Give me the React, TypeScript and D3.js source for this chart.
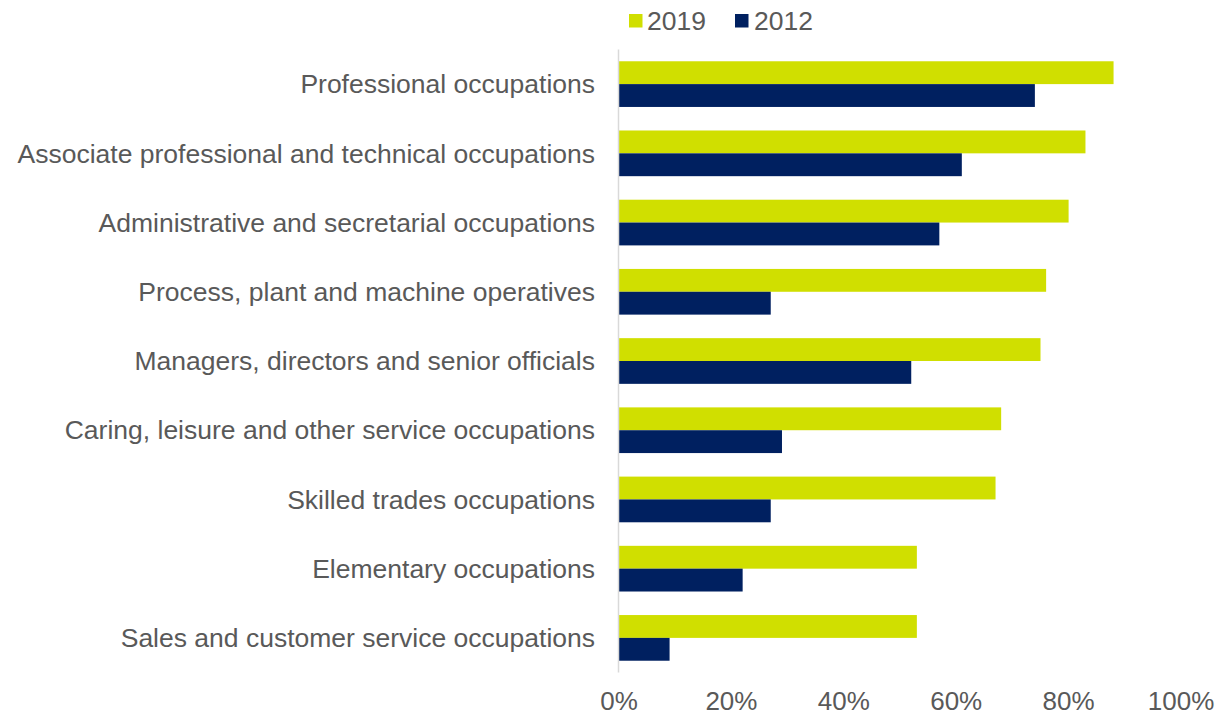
import { useMemo } from "react"
import * as d3 from "d3"

const categories = [
  "Professional occupations",
  "Associate professional and technical occupations",
  "Administrative and secretarial occupations",
  "Process, plant and machine operatives",
  "Managers, directors and senior officials",
  "Caring, leisure and other service occupations",
  "Skilled trades occupations",
  "Elementary occupations",
  "Sales and customer service occupations",
]
const values2019 = [88, 83, 80, 76, 75, 68, 67, 53, 53]
const values2012 = [74, 61, 57, 27, 52, 29, 27, 22, 9]
const seriesNames = ["2019", "2012"]
const xTicks = [0, 20, 40, 60, 80, 100]

const colors: Record<string, string> = { "2019": "#d0df00", "2012": "#002060" }
const textColor = "#595959"
const font = "Arial, 'Liberation Sans', sans-serif"

const width = 1218
const height = 715

export default function App() {
  const x = useMemo(() => d3.scaleLinear().domain([0, 100]).range([619, 1181]), [])
  const y = useMemo(
    () => d3.scaleBand<string>().domain(categories).range([49.5, 672.5]).paddingInner(0.34).paddingOuter(0.17),
    [],
  )
  const sub = useMemo(() => d3.scaleBand<string>().domain(seriesNames).range([0, y.bandwidth()]), [y])

  const series: Record<string, number[]> = { "2019": values2019, "2012": values2012 }

  return (
    <svg
      width={width}
      height={height}
      style={{ position: "absolute", left: 0, top: 0, fontFamily: font }}
    >
      {/* legend */}
      <g>
        <rect x={629} y={14} width={13.5} height={13.5} fill={colors["2019"]} />
        <text x={647} y={30} fontSize={26.5} fill={textColor}>2019</text>
        <rect x={735} y={14} width={13.5} height={13.5} fill={colors["2012"]} />
        <text x={754} y={30} fontSize={26.5} fill={textColor}>2012</text>
      </g>

      {/* bars */}
      {seriesNames.map((s) =>
        categories.map((c, i) => (
          <rect
            key={s + c}
            x={x(0)}
            y={(y(c) ?? 0) + (sub(s) ?? 0)}
            width={x(series[s][i]) - x(0)}
            height={sub.bandwidth()}
            fill={colors[s]}
          />
        )),
      )}

      {/* y axis line */}
      <line x1={x(0) - 0.5} x2={x(0) - 0.5} y1={y.range()[0]} y2={y.range()[1]} stroke="#d9d9d9" strokeWidth={1.5} />

      {/* category labels */}
      {categories.map((c) => (
        <text
          key={c}
          x={595}
          y={(y(c) ?? 0) + y.bandwidth() / 2}
          dy="0.35em"
          textAnchor="end"
          fontSize={26.5}
          fill={textColor}
        >
          {c}
        </text>
      ))}

      {/* x tick labels */}
      {xTicks.map((t) => (
        <text key={t} x={x(t)} y={710} textAnchor="middle" fontSize={26} fill={textColor}>
          {t}%
        </text>
      ))}
    </svg>
  )
}
